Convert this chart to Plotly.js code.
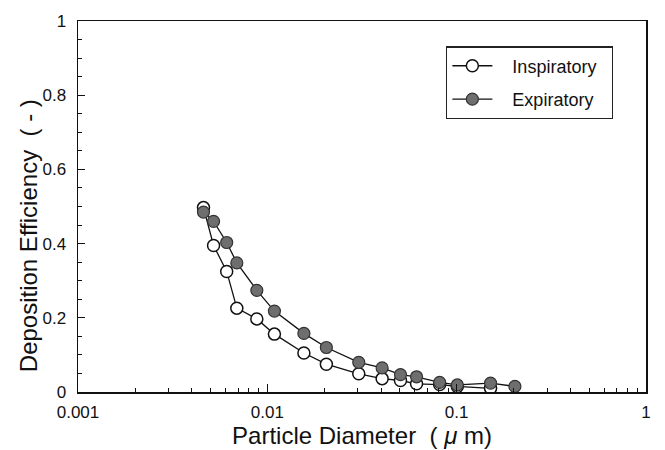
<!DOCTYPE html>
<html>
<head>
<meta charset="utf-8">
<script src="https://cdn.plot.ly/plotly-3.0.1.min.js"></script>
<style>html,body{margin:0;padding:0;background:#fff;}#chart{width:665px;height:450px;}</style>
</head>
<body>
<div id="chart"></div>
<script>
// Inspiratory (open circles)
const inspDiameter = [0.0046, 0.0052, 0.0061, 0.0069, 0.0088, 0.0109, 0.0156, 0.0205, 0.0304, 0.0404, 0.0505, 0.0614, 0.0813, 0.1008, 0.151];
const inspEfficiency = [0.497, 0.395, 0.325, 0.226, 0.197, 0.156, 0.105, 0.075, 0.049, 0.036, 0.031, 0.022, 0.020, 0.015, 0.010];
// Expiratory (filled circles)
const expDiameter = [0.0046, 0.0052, 0.0061, 0.0069, 0.0088, 0.0109, 0.0156, 0.0205, 0.0304, 0.0404, 0.0505, 0.0614, 0.0813, 0.1008, 0.151, 0.203];
const expEfficiency = [0.485, 0.460, 0.403, 0.348, 0.274, 0.218, 0.158, 0.120, 0.080, 0.065, 0.047, 0.041, 0.026, 0.019, 0.024, 0.015];

const seriesNames = ['Inspiratory', 'Expiratory'];
const xTickVals = [0.001, 0.01, 0.1, 1];
const xTickText = ['0.001', '0.01', '0.1', '1'];
const xMinorVals = [];
[0.001, 0.01, 0.1].forEach(d => { for (let k = 2; k <= 9; k++) xMinorVals.push(d * k); });

const xTitle = 'Particle Diameter  ( <i>μ</i> m)';
const yTitle = 'Deposition Efficiency  ( - )';

const FONT = 'Liberation Sans, Arial, Helvetica, sans-serif';
const NB = '\u00a0';
const legendName = s => NB + NB + NB + s + NB + NB;

const traces = [
  {
    x: inspDiameter, y: inspEfficiency, name: legendName(seriesNames[0]), type: 'scatter', mode: 'lines+markers',
    legendgroup: 'a',
    line: {color: '#111', width: 1.3},
    marker: {symbol: 'circle', size: 12, color: '#ffffff', line: {color: '#111', width: 1.5}}
  },
  {
    x: expDiameter, y: expEfficiency, name: legendName(seriesNames[1]), type: 'scatter', mode: 'lines+markers',
    legendgroup: 'b',
    line: {color: '#111', width: 1.3},
    marker: {symbol: 'circle', size: 12, color: '#6e6e6e', line: {color: '#333', width: 1.2}}
  }
];

const layout = {
  width: 665, height: 450,
  margin: {l: 78, r: 19, t: 21, b: 58, pad: 0},
  paper_bgcolor: '#fff', plot_bgcolor: '#fff',
  font: {family: FONT, color: '#111', size: 17},
  showlegend: true,
  legend: {
    x: 0.648, y: 0.932, xanchor: 'left', yanchor: 'top',
    bgcolor: '#fff', bordercolor: '#222', borderwidth: 1.3,
    font: {family: FONT, size: 18, color: '#111'},
    traceorder: 'grouped', tracegroupgap: 7,
    itemwidth: 40
  },
  xaxis: {
    type: 'log', range: [-3, 0],
    tickmode: 'array', tickvals: xTickVals, ticktext: xTickText,
    ticks: 'inside', ticklen: 8, tickwidth: 1.2, tickcolor: '#111',
    ticklabelstandoff: 4,
    minor: {tickmode: 'array', tickvals: xMinorVals, ticks: 'inside', ticklen: 4, tickwidth: 1, tickcolor: '#111', showgrid: false},
    showline: true, linecolor: '#111', linewidth: 1.5, mirror: true,
    showgrid: false, zeroline: false,
    tickfont: {family: FONT, size: 17, color: '#111'},
    title: {text: xTitle, font: {family: FONT, size: 24, color: '#111'}, standoff: 4}
  },
  yaxis: {
    range: [0, 1], dtick: 0.2, tick0: 0,
    ticks: 'inside', ticklen: 7, tickwidth: 1.2, tickcolor: '#111',
    ticklabelstandoff: 7,
    minor: {dtick: 0.05, ticks: 'inside', ticklen: 4, tickwidth: 1, tickcolor: '#111', showgrid: false},
    showline: true, linecolor: '#111', linewidth: 1.5, mirror: true,
    showgrid: false, zeroline: false,
    tickfont: {family: FONT, size: 17, color: '#111'}
  },
  annotations: [
    {
      text: yTitle, xref: 'paper', yref: 'paper', x: -0.088, y: 0.42,
      xanchor: 'center', yanchor: 'middle', textangle: -90, showarrow: false,
      font: {family: FONT, size: 24, color: '#111'}
    }
  ]
};

Plotly.newPlot('chart', traces, layout, {displayModeBar: false, staticPlot: true});
</script>
</body>
</html>
